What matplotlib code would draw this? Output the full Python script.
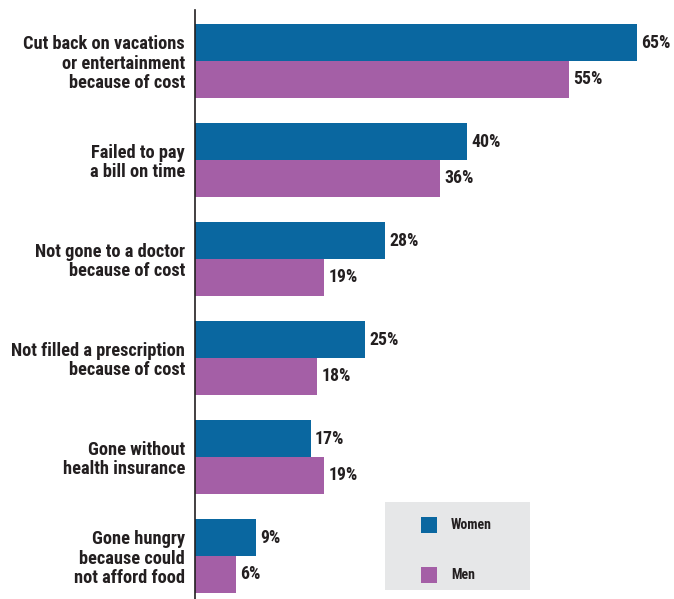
import matplotlib
matplotlib.use("Agg")
import matplotlib.pyplot as plt
from matplotlib.patches import Rectangle
from matplotlib import font_manager

categories = [
    "Cut back on vacations\nor entertainment\nbecause of cost",
    "Failed to pay\na bill on time",
    "Not gone to a doctor\nbecause of cost",
    "Not filled a prescription\nbecause of cost",
    "Gone without\nhealth insurance",
    "Gone hungry\nbecause could\nnot afford food",
]
women = [65, 40, 28, 25, 17, 9]
men = [55, 36, 19, 18, 19, 6]
series_names = ["Women", "Men"]

BLUE = "#0a67a0"
PURPLE = "#a45fa6"
TEXT = "#231f20"

names = {f.name for f in font_manager.fontManager.ttflist}
narrow = [n for n in ["Roboto Condensed", "Liberation Sans Narrow", "Open Sans Condensed",
                      "Noto Sans Condensed", "DejaVu Sans Condensed"] if n in names]
if narrow:
    family = [narrow[0], "DejaVu Sans"]
    fs, vfs, lfs, ls = 13.2, 12.8, 10, 1.08
else:
    family = ["Open Sans", "DejaVu Sans"]
    fs, vfs, lfs, ls = 11, 11, 9, 1.15
plt.rcParams["font.family"] = family

W, H = 674, 599
fig = plt.figure(figsize=(W / 100, H / 100), dpi=100)
ax = fig.add_axes([195 / W, 0, (W - 195) / W, (H - 10) / H])

bar_h = 0.37
ys = list(range(len(categories)))
yw = [y - bar_h / 2 for y in ys]
ym = [y + bar_h / 2 for y in ys]
ax.barh(yw, women, height=bar_h, color=BLUE, edgecolor="none")
ax.barh(ym, men, height=bar_h, color=PURPLE, edgecolor="none")

for y, v in zip(yw, women):
    ax.text(v + 0.6, y, f"{v}%", va="center", ha="left", fontsize=vfs,
            fontweight="bold", color=TEXT)
for y, v in zip(ym, men):
    ax.text(v + 0.6, y, f"{v}%", va="center", ha="left", fontsize=vfs,
            fontweight="bold", color=TEXT)

ax.set_xlim(0, (W - 195) / 6.8)
ax.set_ylim((H - 61) / 99, -51 / 99)
ax.set_yticks(ys)
ax.set_yticklabels(categories, fontsize=fs, fontweight="bold", color=TEXT,
                   linespacing=ls)
ax.tick_params(axis="y", length=0, pad=7.2)
ax.set_xticks([])
for s in ["top", "right", "bottom"]:
    ax.spines[s].set_visible(False)
ax.spines["left"].set_color(TEXT)
ax.spines["left"].set_linewidth(1.2)

# legend panel
def px(x, y):
    return x / W, 1 - y / H

x0, y0 = px(385, 590)
fig.patches.append(Rectangle((x0, y0), 145 / W, 88 / H, transform=fig.transFigure,
                             facecolor="#e6e7e8", edgecolor="none", zorder=0))
for (yc, col, name) in [(525, BLUE, series_names[0]), (575, PURPLE, series_names[1])]:
    sx, sy = px(421, yc + 8)
    fig.patches.append(Rectangle((sx, sy), 16 / W, 16 / H, transform=fig.transFigure,
                                 facecolor=col, edgecolor="none", zorder=1))
    tx, ty = px(451, yc)
    fig.text(tx, ty, name, va="center", ha="left", fontsize=lfs,
             fontweight="bold", color=TEXT)

fig.savefig("out.png", dpi=100)
